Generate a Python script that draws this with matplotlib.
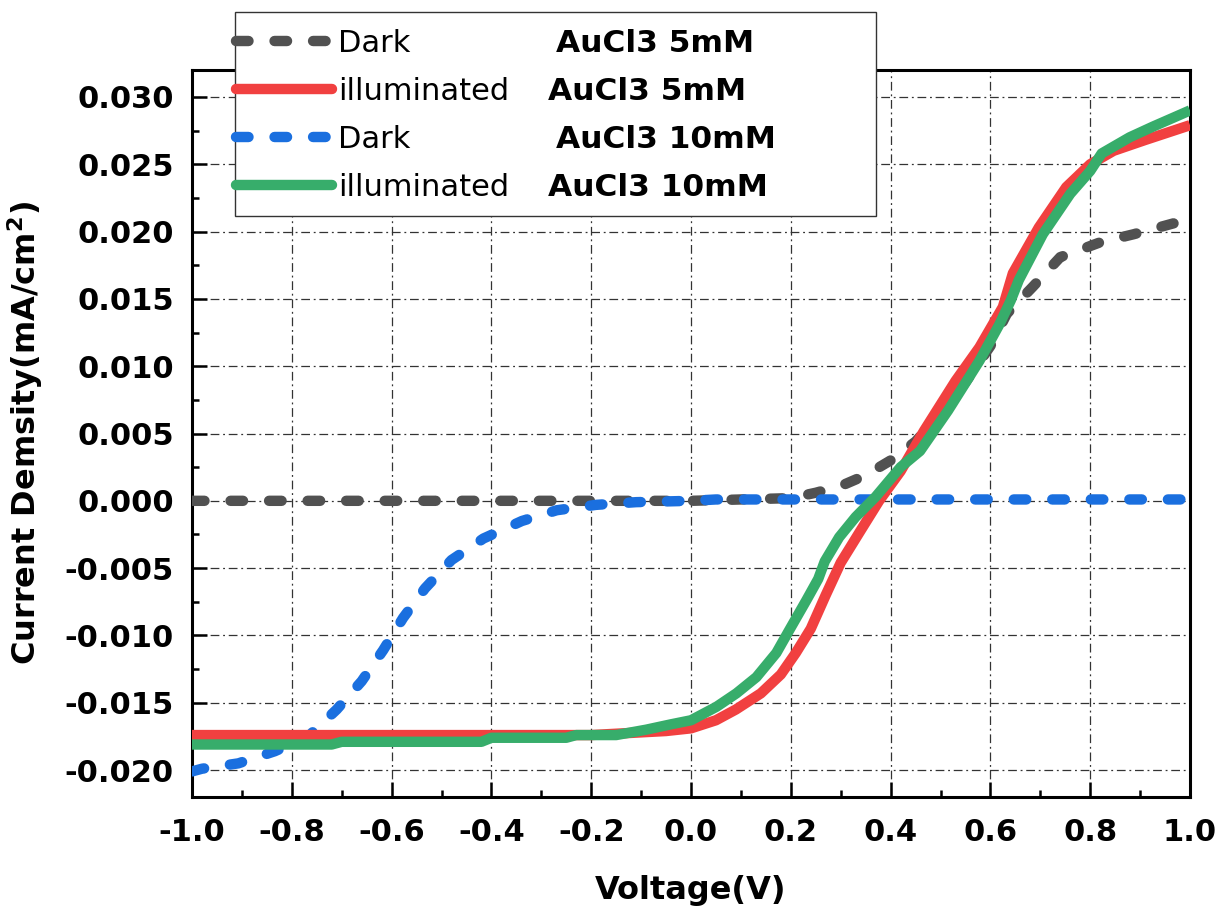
import matplotlib
matplotlib.use("Agg")
import matplotlib.pyplot as plt
from matplotlib.lines import Line2D
from matplotlib.patches import Rectangle
from matplotlib.ticker import MultipleLocator, FormatStrFormatter

plt.rcParams['font.family'] = ['DejaVu Sans']
plt.rcParams['axes.unicode_minus'] = False

# ---------------- data ----------------
v_dark5 = [-1.0, -0.8, -0.6, -0.4, -0.2, 0.0, 0.1, 0.2, 0.25, 0.3, 0.35, 0.4, 0.45, 0.5,
           0.55, 0.6, 0.633, 0.685, 0.74, 0.82, 0.887, 0.966, 1.0]
j_dark5 = [0.0, 0.0, 0.0, 0.0, 0.0, 0.0, 0.0001, 0.0002, 0.0006, 0.0011, 0.0019, 0.0030, 0.0044, 0.0064,
           0.0088, 0.0115, 0.0139, 0.0159, 0.0181, 0.0192, 0.0198, 0.0206, 0.0208]

v_dark10 = [-1.0, -0.98, -0.907, -0.834, -0.767, -0.71, -0.66, -0.617, -0.577, -0.533, -0.48,
            -0.416, -0.339, -0.269, -0.19, -0.11, 0.0, 0.05, 0.2, 0.4, 0.6, 0.8, 1.0]
j_dark10 = [-0.0201, -0.0199, -0.0195, -0.0186, -0.0175, -0.0155, -0.0134, -0.0111, -0.0087, -0.0065, -0.0044,
            -0.0028, -0.0015, -0.0007, -0.0003, -0.0001, 0.0, 0.0001, 0.0001, 0.0001, 0.0001, 0.0001, 0.0001]

v_ill5 = [-1.0, -0.4, -0.2, -0.1, -0.05, 0.0, 0.05, 0.09, 0.14, 0.18, 0.21, 0.24, 0.27, 0.30, 0.34,
          0.377, 0.42, 0.467, 0.53, 0.578, 0.625, 0.645, 0.697, 0.752, 0.80, 0.847, 0.91, 1.0]
j_ill5 = [-0.0174, -0.0174, -0.0174, -0.0172, -0.0171, -0.0169, -0.0163, -0.0155, -0.0143, -0.0129, -0.0113,
          -0.0095, -0.0070, -0.0046, -0.0022, 0.0, 0.0022, 0.0052, 0.0089, 0.0114, 0.0144, 0.0169, 0.0203,
          0.0233, 0.0250, 0.0260, 0.0268, 0.0279]

v_ill10 = [-1.0, -0.72, -0.70, -0.42, -0.40, -0.25, -0.23, -0.15, -0.09, -0.04, 0.0, 0.051, 0.091, 0.131,
           0.171, 0.197, 0.231, 0.255, 0.268, 0.297, 0.33, 0.37, 0.42, 0.459, 0.515, 0.578, 0.618, 0.641,
           0.657, 0.705, 0.76, 0.80, 0.823, 0.879, 0.926, 1.0]
j_ill10 = [-0.0181, -0.0181, -0.0179, -0.0179, -0.0176, -0.0176, -0.0174, -0.0174, -0.0170, -0.0166, -0.0163,
           -0.0153, -0.0143, -0.0131, -0.0113, -0.0096, -0.0074, -0.0058, -0.0045, -0.0027, -0.0012, 0.0003,
           0.0025, 0.0037, 0.0067, 0.0104, 0.0131, 0.0149, 0.0164, 0.0198, 0.0228, 0.0245, 0.0258, 0.0270,
           0.0278, 0.0290]

legend_names = ["Dark", "illuminated", "Dark", "illuminated"]
legend_bold = ["AuCl3 5mM", "AuCl3 5mM", "AuCl3 10mM", "AuCl3 10mM"]
x_label = "Voltage(V)"
y_label = r"Current Demsity(mA/cm$^{\mathbf{2}}$)"

# ---------------- style ----------------
c_grey, c_red, c_blue, c_green = "#515151", "#F14040", "#1A6FDF", "#37AD6B"
LW = 7.5
DASH = (1.2, 2.5)

W, H = 1229, 923
fig = plt.figure(figsize=(W / 100, H / 100), dpi=100)
ax = fig.add_axes([192 / W, 1 - 797 / H, (1190 - 192) / W, (797 - 70) / H])

ax.plot(v_dark5, j_dark5, color=c_grey, lw=LW, dashes=DASH, dash_capstyle='round', zorder=3)
ax.plot(v_dark10, j_dark10, color=c_blue, lw=LW, dashes=DASH, dash_capstyle='round', zorder=4)
ax.plot(v_ill5, j_ill5, color=c_red, lw=LW, solid_capstyle='butt', zorder=5)
ax.plot(v_ill10, j_ill10, color=c_green, lw=LW, solid_capstyle='butt', zorder=6)

ax.set_xlim(-1.0, 1.0)
ax.set_ylim(-0.022, 0.032)
ax.xaxis.set_major_locator(MultipleLocator(0.2))
ax.xaxis.set_minor_locator(MultipleLocator(0.1))
ax.yaxis.set_major_locator(MultipleLocator(0.005))
ax.yaxis.set_minor_locator(MultipleLocator(0.0025))
ax.xaxis.set_major_formatter(FormatStrFormatter('%.1f'))
ax.yaxis.set_major_formatter(FormatStrFormatter('%.3f'))

ax.grid(True, which='major', color='#333333', lw=0.9, linestyle=(0, (7, 3, 1.5, 3)), zorder=1)
ax.set_axisbelow(True)

for s in ax.spines.values():
    s.set_linewidth(2.2)
ax.tick_params(which='both', direction='in', top=False, right=False, width=1.8)
ax.tick_params(which='major', length=11)
ax.tick_params(which='minor', length=5)
ax.tick_params(axis='x', which='major', pad=15, labelsize=22)
ax.tick_params(axis='y', which='major', pad=13, labelsize=22)
for lab in ax.get_xticklabels() + ax.get_yticklabels():
    lab.set_fontweight('bold')

ax.set_xlabel(x_label, fontsize=23, fontweight='bold', labelpad=20)
ax.set_ylabel(y_label, fontsize=23, fontweight='bold', labelpad=14)

# ---------------- legend ----------------
frame = Rectangle((235 / W, 1 - 216 / H), (876 - 235) / W, (216 - 12) / H,
                  transform=fig.transFigure, facecolor='white', edgecolor='#333333',
                  lw=1.0, zorder=4)
fig.add_artist(frame)

handles = [
    Line2D([], [], color=c_grey, lw=LW, dashes=DASH, dash_capstyle='round'),
    Line2D([], [], color=c_red, lw=LW, solid_capstyle='round'),
    Line2D([], [], color=c_blue, lw=LW, dashes=DASH, dash_capstyle='round'),
    Line2D([], [], color=c_green, lw=LW, solid_capstyle='round'),
]
leg = fig.legend(handles, legend_names, loc='upper left',
                 bbox_to_anchor=(236 / W, 1 - 29 / H), bbox_transform=fig.transFigure,
                 frameon=False, fontsize=22, handlelength=3.15, handletextpad=0.2,
                 labelspacing=0.62, borderpad=0.0, borderaxespad=0.0)
leg.set_zorder(6)

fig.canvas.draw()
bold_x = [556, 548, 556, 548]
for t, txt, bx in zip(leg.get_texts(), legend_bold, bold_x):
    bb = t.get_window_extent()
    yc = (bb.y0 + bb.y1) / 2 / H
    fig.text(bx / W, yc, txt, fontsize=22.5, fontweight='bold', va='center', ha='left', zorder=7)

fig.savefig("out.png", dpi=100)
